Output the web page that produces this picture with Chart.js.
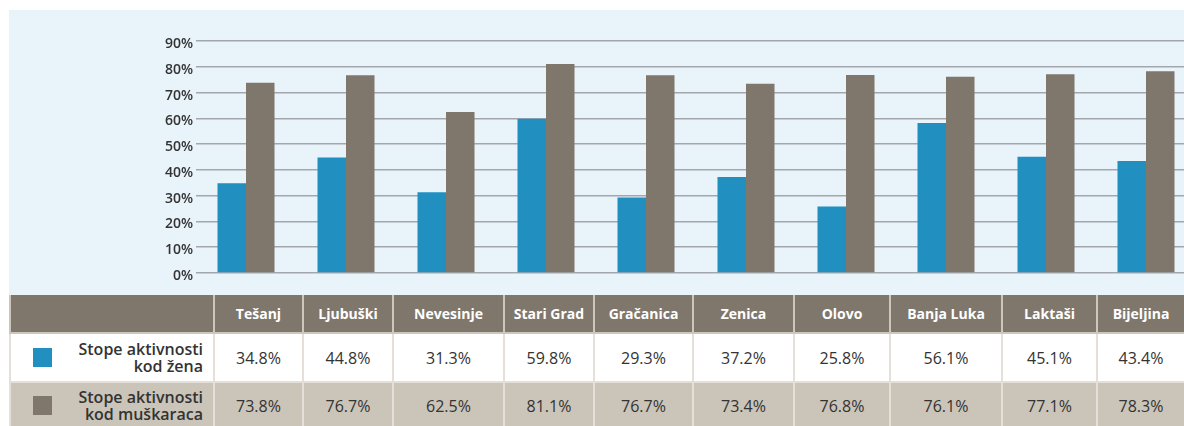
<!DOCTYPE html>
<html>
<head>
<meta charset="utf-8">
<script src="https://cdn.jsdelivr.net/npm/chart.js@4/dist/chart.umd.min.js"></script>
<style>
  body { margin: 0; background: #fff; font-family: 'Open Sans', sans-serif; width: 1184px; height: 426px; overflow: hidden; position: relative; }
  #chartBox { position: absolute; left: 9px; top: 10px; width: 1175px; height: 285px; background: #e8f3fa; overflow: hidden; }
  #chartInner { width: 1187px; height: 285px; }
  #dataTable { position: absolute; left: 9px; top: 295px; width: 1175px; border-collapse: collapse; table-layout: fixed; }
  #dataTable th { background: #7f776c; color: #fff; font-size: 14px; font-weight: bold; height: 37px; padding: 0; border: 2px solid #ccc6bd; border-top: none; }
  #dataTable td { font-size: 16px; color: #333; text-align: center; padding: 0; border: 2px solid #e4e0d9; }
  #dataTable tr.r1 td { background: #fff; height: 47px; }
  #dataTable tr.r2 td { background: #cbc4b8; height: 46px; border-color: #e4e0d9; }
  #dataTable td.lbl { text-align: right; font-weight: 600; font-size: 16px; line-height: 17px; padding-right: 10px; position: relative; }
  .sq { position: absolute; left: 22px; top: 50%; margin-top: -10px; width: 19px; height: 19px; }
</style>
</head>
<body>
<div id="chartBox"><div id="chartInner"><canvas id="activityChart"></canvas></div></div>
<table id="dataTable"></table>
<script>
// Data
const cities = ['Tešanj', 'Ljubuški', 'Nevesinje', 'Stari Grad', 'Gračanica', 'Zenica', 'Olovo', 'Banja Luka', 'Laktaši', 'Bijeljina'];
const barsZene = [34.8, 44.8, 31.3, 59.8, 29.3, 37.2, 25.8, 58.2, 45.1, 43.4];
const barsMuskarci = [73.8, 76.7, 62.5, 81.1, 76.7, 73.4, 76.8, 76.1, 77.1, 78.3];
const tableZene = ['34.8%', '44.8%', '31.3%', '59.8%', '29.3%', '37.2%', '25.8%', '56.1%', '45.1%', '43.4%'];
const tableMuskarci = ['73.8%', '76.7%', '62.5%', '81.1%', '76.7%', '73.4%', '76.8%', '76.1%', '77.1%', '78.3%'];
const yTicks = [0, 10, 20, 30, 40, 50, 60, 70, 80, 90];
const seriesNames = ['Stope aktivnosti<br>kod žena', 'Stope aktivnosti<br>kod muškaraca'];
const colors = ['#2190c1', '#7f776c'];
const colWidths = [204, 89, 90, 111, 90, 99, 101, 96, 112, 95, 88];

// Chart
const ctx = document.getElementById('activityChart').getContext('2d');
new Chart(ctx, {
    type: 'bar',
    data: {
        labels: cities,
        datasets: [{
            label: 'Stope aktivnosti kod žena',
            data: barsZene,
            backgroundColor: colors[0],
            borderWidth: 0
        }, {
            label: 'Stope aktivnosti kod muškaraca',
            data: barsMuskarci,
            backgroundColor: colors[1],
            borderWidth: 0
        }]
    },
    options: {
        responsive: true,
        maintainAspectRatio: false,
        animation: false,
        datasets: { bar: { barPercentage: 1, categoryPercentage: 0.57 } },
        layout: { padding: { top: 31, bottom: 22, left: 0, right: 0 } },
        plugins: { legend: { display: false }, tooltip: { enabled: false } },
        scales: {
            x: { display: false },
            y: {
                min: 0,
                max: 90,
                afterBuildTicks: (scale) => { scale.ticks = yTicks.map(v => ({ value: v })); },
                afterFit: (scale) => { scale.width = 187; },
                ticks: {
                    callback: (v) => v + '%',
                    color: '#333',
                    font: { family: 'Open Sans', size: 14, weight: '600' },
                    padding: 3,
                    labelOffset: 3
                },
                grid: { color: '#a3a7ad', lineWidth: 1.5, drawTicks: false },
                border: { display: false }
            }
        }
    }
});

// Table under the chart
const table = document.getElementById('dataTable');
let html = '<colgroup>' + colWidths.map(w => '<col style="width:' + w + 'px">').join('') + '</colgroup>';
html += '<tr><th></th>' + cities.map(c => '<th>' + c + '</th>').join('') + '</tr>';
[tableZene, tableMuskarci].forEach((row, i) => {
    html += '<tr class="r' + (i + 1) + '"><td class="lbl"><span class="sq" style="background:' + colors[i] + '"></span>' + seriesNames[i] + '</td>';
    html += row.map(v => '<td>' + v + '</td>').join('') + '</tr>';
});
table.innerHTML = html;
</script>
</body>
</html>
